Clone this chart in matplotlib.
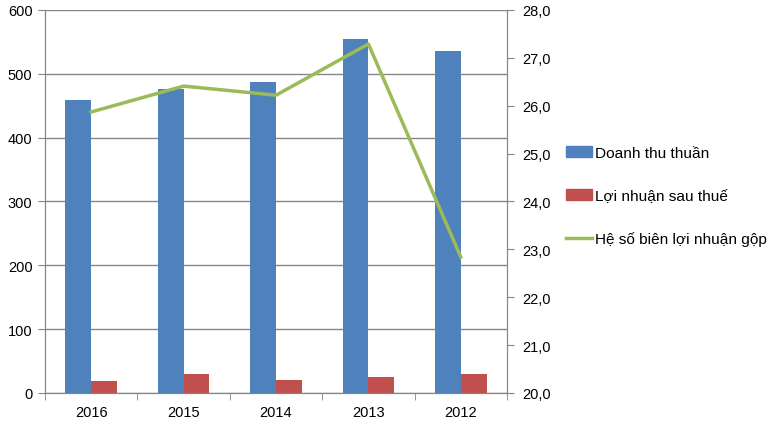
import numpy as np
import matplotlib.pyplot as plt
from matplotlib.patches import Patch
from matplotlib.lines import Line2D

# data
years = ["2016", "2015", "2014", "2013", "2012"]
doanh_thu = [459, 476, 487, 555, 536]
loi_nhuan = [19, 30, 20, 25, 30]
he_so_bien = [25.87, 26.41, 26.22, 27.29, 22.84]

LABELS = ["Doanh thu thuần", "Lợi nhuận sau thuế", "Hệ số biên lợi nhuận gộp"]
BLUE = "#4F81BD"
RED = "#C0504D"
GREEN = "#9BBB59"
GRID = "#868686"

plt.rcParams.update({
    "font.family": ["Liberation Sans", "DejaVu Sans"],
    "font.size": 10.5,
})

fig = plt.figure(figsize=(7.79, 4.27), dpi=100)
ax1 = fig.add_axes([0.0578, 0.0773, 0.593, 0.897])
ax2 = ax1.twinx()

x = np.arange(len(years))
w = 0.28
ax1.bar(x - w / 2, doanh_thu, w, color=BLUE, zorder=3)
ax1.bar(x + w / 2, loi_nhuan, w, color=RED, zorder=3)

ax1.set_xlim(-0.5, len(years) - 0.5)
ax1.set_ylim(0, 600)
ax1.set_yticks(range(0, 601, 100))
ax1.grid(axis="y", color=GRID, linewidth=1, zorder=0)
ax1.set_axisbelow(True)

ax1.set_xticks(x)
ax1.set_xticklabels(years)
ax1.set_xticks(np.arange(-0.5, len(years)), minor=True)
ax1.tick_params(axis="x", which="major", length=0, pad=9)
ax1.tick_params(axis="x", which="minor", length=5, color=GRID, direction="out")
ax1.tick_params(axis="y", length=5, color=GRID, direction="out", pad=4)

ax2.plot(x, he_so_bien, color=GREEN, linewidth=2.5, zorder=5)
ax2.set_ylim(20, 28)
ax2.set_yticks(range(20, 29))
ax2.set_yticklabels([f"{v},0" for v in range(20, 29)])
ax2.tick_params(axis="y", length=5, color=GRID, direction="out", pad=6)

for a in (ax1, ax2):
    a.spines["top"].set_visible(False)
    for s in ("left", "right", "bottom"):
        a.spines[s].set_color(GRID)

handles = [
    Patch(color=BLUE),
    Patch(color=RED),
    Line2D([0], [0], color=GREEN, linewidth=2.5),
]
fig.legend(handles, LABELS, loc="upper left", bbox_to_anchor=(0.709, 0.688),
           frameon=False, labelspacing=1.85, handlelength=1.65,
           handletextpad=0.2, fontsize=11.1)

fig.savefig("out.png", dpi=100)
